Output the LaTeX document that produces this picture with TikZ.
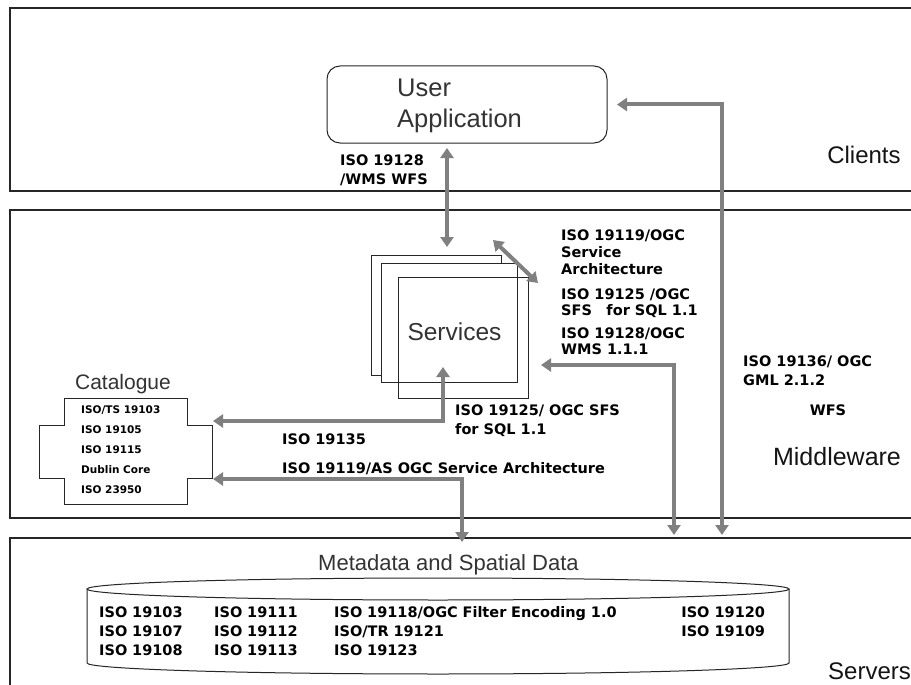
\documentclass[tikz,border=0pt]{standalone}
\usepackage{fontspec}
\setmainfont{Liberation Sans}
\newfontfamily\stdfont{DejaVu Sans}
\usepackage{xcolor}
\usepackage{tikz}
\usetikzlibrary{matrix,calc,arrows.meta}
\definecolor{flowgray}{RGB}{128,128,128}

\begin{document}
\begin{tikzpicture}[x=1pt, y=-1pt,
        band/.style={draw=black!85, line width=1.3pt, minimum width=930pt, anchor=north west, inner sep=0pt, outer sep=0pt},
        box/.style={draw=black!85, line width=1pt, fill=white, inner sep=0pt, outer sep=0pt},
        flow/.style={draw=flowgray, line width=4pt, {Triangle[width=13pt,length=10pt]}-{Triangle[width=13pt,length=10pt]}},
        title/.style={text=black!80, inner sep=0pt},
        layer/.style={text=black!92, inner sep=0pt},
        lbl/.style={font=\stdfont\bfseries\fontsize{14.5}{17}\selectfont, inner sep=0pt, align=left}]

        \useasboundingbox (0,0) rectangle (911,685);
        \clip (0,0) rectangle (911,685);
        \fill[white] (0,0) rectangle (911,685);

        % layers
        \node[band, minimum height=183pt] (clients) at (10,8) {};
        \node[band, minimum height=308pt] (middle) at (10,210) {};
        \node[band, minimum height=182pt] (servers) at (10,538) {};

        \node[layer, font=\fontsize{24}{24}\selectfont, anchor=base] (cllbl) at (864,163) {Clients};
        \node[layer, font=\fontsize{25}{25}\selectfont, anchor=base] (mwlbl) at (837,465) {Middleware};
        \node[layer, font=\fontsize{24}{24}\selectfont, anchor=base west] (srvlbl) at (828,679) {Servers};

        % user application
        \node[box, rounded corners=13pt, minimum width=280pt, minimum height=77pt] (ua) at (467,104.5) {};
        \node[title, font=\fontsize{25.5}{31}\selectfont, align=left, anchor=north west] (ualbl) at (397,78.7) {User\\Application};

        % services stack
        \node[box, minimum width=130pt, minimum height=120pt] (sv1) at (436,315) {};
        \node[box, minimum width=136pt, minimum height=119pt] (sv2) at ($(sv1)+(13,7.5)$) {};
        \node[box, fill=none, minimum width=130pt, minimum height=121pt] (sv3) at ($(sv2)+(14,15)$) {};
        \node[title, font=\fontsize{24.5}{24.5}\selectfont, anchor=base] (svlbl) at (454.5,340) {Services};

        % catalogue
        \node[minimum width=173pt, minimum height=106pt, inner sep=0pt, outer sep=0pt] (cat) at (125.5,451) {};
        \draw[box] (64,398) -| (187,425) -| (212,478) -| (187,504) -| (64,478) -| (39,425) -| (64,398) -- cycle;
        \node[title, font=\fontsize{21}{21}\selectfont, anchor=base] (catlbl) at (123,389) {Catalogue};
        \matrix (catlist) [matrix of nodes, anchor=north west, inner sep=0pt, row sep=9.5pt,
            nodes={lbl, font=\stdfont\bfseries\fontsize{10.5}{12}\selectfont, anchor=base west, text height=8pt, text depth=2.5pt}] at (81,405)
        {
            ISO/TS 19103 \\
            ISO 19105 \\
            ISO 19115 \\
            Dublin Core \\
            ISO 23950 \\
        };

        % data store
        \draw[box] (87,589) -- (87,663) arc[start angle=180, end angle=0, x radius=351, y radius=11] -- (789,589);
        \draw[box] (438,589) ellipse [x radius=351, y radius=11];
        \node[title, font=\fontsize{22}{22}\selectfont, anchor=base] (dblbl) at (448.5,570) {Metadata and Spatial Data};
        \matrix (dblist) [matrix of nodes, anchor=north west, inner sep=0pt, row sep=5pt,
            nodes={lbl, anchor=base west, text height=11pt, text depth=3pt},
            column 1/.style={nodes={text width=115pt}},
            column 2/.style={nodes={text width=120pt}},
            column 3/.style={nodes={text width=347pt}}] at (99,606)
        {
            ISO 19103 & ISO 19111 & ISO 19118/OGC Filter Encoding 1.0 & ISO 19120 \\
            ISO 19107 & ISO 19112 & ISO/TR 19121 & ISO 19109 \\
            ISO 19108 & ISO 19113 & ISO 19123 & \\
        };

        % standards
        \node[lbl, anchor=north west] (wms) at (340,154.7) {ISO 19128\\[2pt]/WMS WFS};
        \node[lbl, anchor=north west] (arch) at (561,229.7) {ISO 19119/OGC\\Service\\Architecture};
        \node[lbl, anchor=north west] (sfs) at (561,288.7) {ISO 19125 /OGC\\[-1pt]SFS\hspace{1em}for SQL 1.1};
        \node[lbl, anchor=north west] (wms2) at (561,327.7) {ISO 19128/OGC\\[-1pt]WMS 1.1.1};
        \node[lbl, anchor=north west] (gml) at (743,355.7) {ISO 19136/ OGC\\[2pt]GML 2.1.2};
        \node[lbl, anchor=base] (wfs) at (828,415) {WFS};
        \node[lbl, anchor=north west] (sfs2) at (455,404.7) {ISO 19125/ OGC SFS\\[2pt]for SQL 1.1};
        \node[lbl, anchor=north west] (reg) at (282,433.7) {ISO 19135};
        \node[lbl, anchor=north west] (arch2) at (282,462.7) {ISO 19119/AS OGC Service Architecture};

        % connectors
        \draw[flow] ($(ua.south)+(-20,5)$) -- ($(sv1.north)+(11,-8)$);
        \draw[flow] ($(sv3.north east)+(-35,-37)$) -- ($(sv3.north east)+(10,6)$);
        \draw[flow] ($(ua.east)+(10,0)$) -| ($(servers.north west)+(712,-3)$);
        \draw[flow] ($(sv3.east)+(13,27.5)$) -| ($(servers.north west)+(664,-3)$);
        \draw[flow] ($(sv3.south west)+(45,-31)$) |- ($(cat.east)+(1,-30)$);
        \draw[flow] ($(cat.east)+(1,28)$) -| ($(servers.north west)+(452,4)$);
    \end{tikzpicture}
\end{document}
